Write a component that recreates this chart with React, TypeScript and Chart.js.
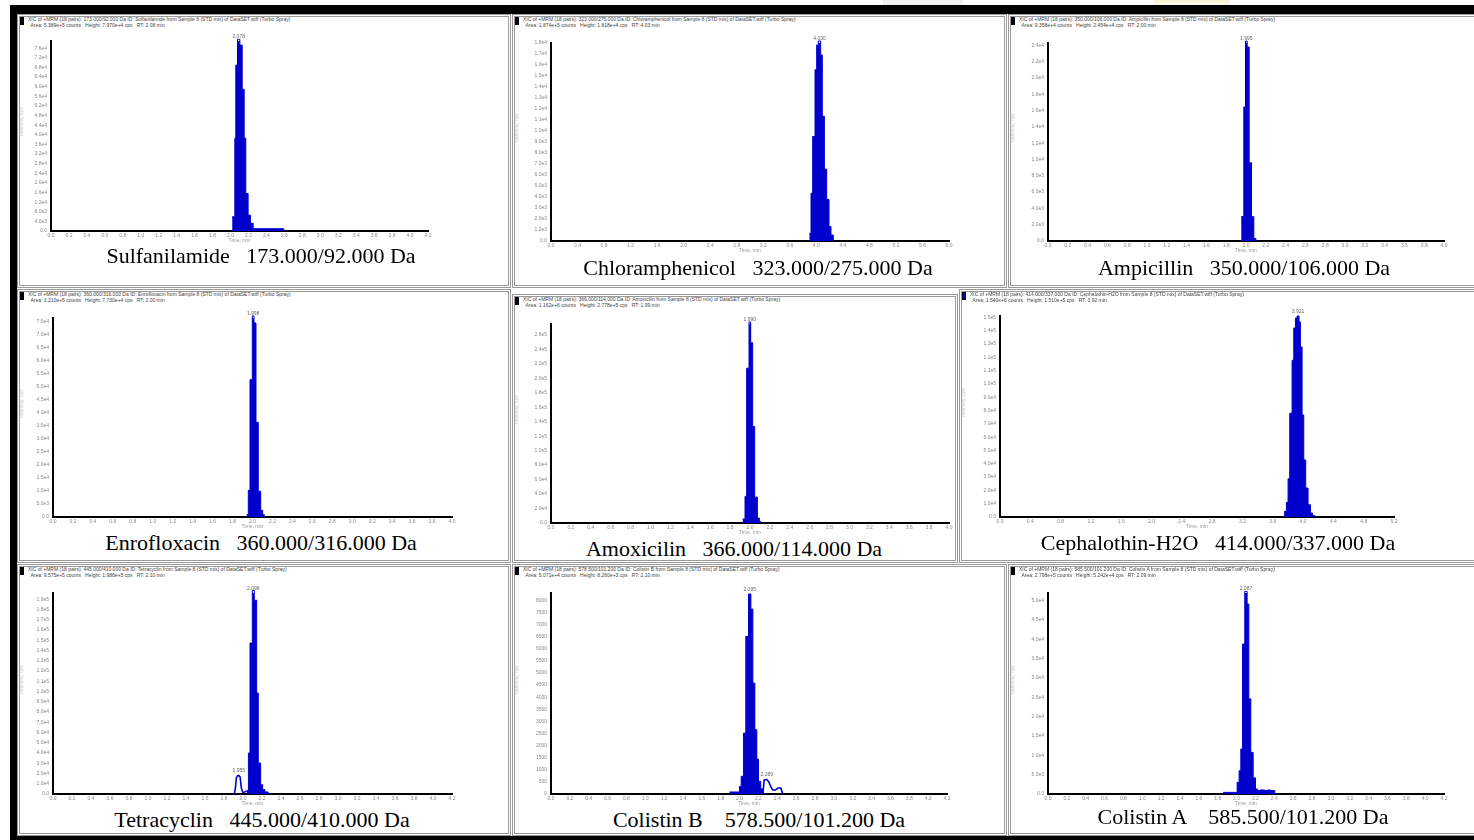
import React, { useEffect, useRef } from "react";
import { Chart, registerables } from "chart.js";

Chart.register(...registerables);

// ---------------- data ----------------
const compoundNames = [
  "Sulfanilamide",
  "Chloramphenicol",
  "Ampicillin",
  "Enrofloxacin",
  "Amoxicilin",
  "Cephalothin-H2O",
  "Tetracyclin",
  "Colistin B",
  "Colistin A",
];
const transitions = [
  "173.000/92.000 Da",
  "323.000/275.000 Da",
  "350.000/106.000 Da",
  "360.000/316.000 Da",
  "366.000/114.000 Da",
  "414.000/337.000 Da",
  "445.000/410.000 Da",
  "578.500/101.200 Da",
  "585.500/101.200 Da",
];
const timeAxisMax = [4.2, 6.0, 4.0, 4.0, 4.0, 5.2, 4.2, 4.2, 4.2];
const timeAxisStep = [0.2, 0.4, 0.2, 0.2, 0.2, 0.4, 0.2, 0.2, 0.2];
const intensityAxisMax = [79000, 18000, 24300, 76500, 275000, 151000, 196000, 8300, 52000];
const intensityAxisStep = [4000, 1000, 2000, 5000, 20000, 10000, 10000, 500, 5000];

const p1Time = [2.018, 2.048, 2.059, 2.078, 2.104, 2.13, 2.152, 2.17, 2.196, 2.222, 2.252, 2.593];
const p1Intensity = [5900, 38600, 69000, 79700, 77300, 58900, 38600, 15600, 6600, 3200, 950, 0];

const p2Time = [3.894, 3.92, 3.945, 3.98, 4.005, 4.03, 4.065, 4.09, 4.121, 4.156, 4.191, 4.221, 4.256];
const p2Intensity = [700, 4340, 9500, 15570, 17820, 18180, 16920, 11340, 6530, 3780, 1310, 540, 0];

const p3Time = [1.951, 1.978, 1.995, 2.012, 2.032, 2.056, 2.079, 2.1];
const p3Intensity = [2990, 16450, 24540, 23810, 9600, 2990, 320, 0];

const p4Time = [1.942, 1.958, 1.975, 1.998, 2.015, 2.035, 2.058, 2.082, 2.102, 2.118];
const p4Intensity = [920, 10250, 52800, 77300, 74600, 36400, 9870, 2600, 920, 0];

const p5Time = [1.926, 1.95, 1.966, 1.99, 2.007, 2.027, 2.047, 2.074, 2.094, 2.107];
const p5Intensity = [5500, 36850, 213950, 277750, 249150, 133400, 35750, 6900, 2200, 0];

const p6Time = [3.749, 3.78, 3.802, 3.824, 3.855, 3.877, 3.899, 3.921, 3.947, 3.965, 3.987, 4.009, 4.035, 4.066, 4.097, 4.123, 4.154];
const p6Intensity = [4230, 11020, 28690, 77920, 117780, 141940, 149500, 151000, 146470, 127750, 76560, 42880, 21740, 9210, 3020, 1060, 0];

const p7Time = [2.039, 2.057, 2.074, 2.098, 2.119, 2.144, 2.161, 2.186, 2.207, 2.231, 2.266];
const p7Intensity = [3530, 39980, 147200, 198550, 188940, 98390, 30180, 9020, 4310, 1960, 0];
const p7MinorTime = [1.909, 1.92, 1.93, 1.941, 1.955, 1.969, 1.983, 1.997, 2.018, 2.039];
const p7MinorIntensity = [0, 5880, 15680, 17640, 18030, 16660, 5880, 1570, 1960, 2940];

const p8Time = [1.893, 1.999, 2.017, 2.042, 2.066, 2.095, 2.12, 2.141, 2.162, 2.183, 2.201, 2.225, 2.254];
const p8Intensity = [83, 315, 730, 2515, 6507, 8260, 7636, 4580, 2656, 1444, 523, 208, 0];
const p8MinorTime = [2.247, 2.261, 2.289, 2.31, 2.332, 2.353, 2.381, 2.409, 2.438, 2.459];
const p8MinorIntensity = [0, 581, 598, 498, 290, 166, 166, 249, 249, 0];

const p9Time = [1.857, 2.006, 2.027, 2.045, 2.063, 2.087, 2.112, 2.13, 2.151, 2.176, 2.201, 2.222, 2.247, 2.3, 2.328, 2.36, 2.406];
const p9Intensity = [420, 3020, 6030, 11650, 38790, 52420, 49140, 24600, 10760, 4160, 1300, 880, 1040, 880, 1040, 880, 0];

const seriesTime = [p1Time, p2Time, p3Time, p4Time, p5Time, p6Time, p7Time, p8Time, p9Time];
const seriesIntensity = [p1Intensity, p2Intensity, p3Intensity, p4Intensity, p5Intensity, p6Intensity, p7Intensity, p8Intensity, p9Intensity];
const minorTime: (number[] | null)[] = [null, null, null, null, null, null, p7MinorTime, p8MinorTime, null];
const minorIntensity: (number[] | null)[] = [null, null, null, null, null, null, p7MinorIntensity, p8MinorIntensity, null];

// ---------------- layout ----------------
const plotRects = [
  [51, 41, 428, 231],
  [551, 43, 949, 241],
  [1048, 43, 1444, 241],
  [53, 318, 452, 517],
  [551, 324, 949, 523],
  [1000, 316, 1394, 517],
  [53, 593, 452, 794],
  [551, 593, 947, 794],
  [1048, 593, 1444, 794],
];
const frameRects = [
  [17, 14, 511, 288],
  [512, 14, 1007, 288],
  [1008, 14, 1480, 288],
  [17, 289, 511, 563],
  [512, 294, 958, 563],
  [959, 289, 1480, 563],
  [17, 564, 511, 836],
  [512, 564, 1007, 836],
  [1008, 564, 1480, 836],
];
const titleCenters = [
  [261, 256],
  [758, 268],
  [1244, 268],
  [261, 543],
  [734, 549],
  [1218, 543],
  [262, 820],
  [759, 820],
  [1243, 817],
];
const nameGaps = ["   ", "   ", "   ", "   ", "   ", "   ", "   ", "    ", "    "];
const blueMarker = [false, false, false, false, false, true, false, false, false];

const BLUE = "#0000CD";
const PAD_L = 40;
const PAD_T = 12;
const PAD_R = 8;
const PAD_B = 13;

function fmtExp(v: number) {
  if (v === 0) return "0.0";
  return v.toExponential(1).replace("+", "");
}

function stepTicks(max: number, step: number) {
  const n = Math.floor(max / step + 1e-6);
  const out: { value: number }[] = [];
  for (let k = 0; k <= n; k++) out.push({ value: Math.round(k * step * 1000) / 1000 });
  return out;
}

const peakLabelPlugin = {
  id: "peakLabels",
  afterDatasetsDraw(chart: any) {
    const ctx = chart.ctx;
    chart.data.datasets.forEach((ds: any) => {
      if (!ds.peakLabel) return;
      const d = ds.data as { x: number; y: number }[];
      let best = 0;
      d.forEach((p, j) => {
        if (p.y > d[best].y) best = j;
      });
      const p = d[best];
      const nx = ds.stepped && d[best + 1] ? (p.x + d[best + 1].x) / 2 : p.x;
      const x = chart.scales.x.getPixelForValue(nx);
      const y = chart.scales.y.getPixelForValue(p.y);
      ctx.save();
      ctx.font = "5px 'Liberation Sans'";
      ctx.fillStyle = "#666";
      ctx.textAlign = "center";
      ctx.textBaseline = "bottom";
      ctx.fillText(p.x.toFixed(3), x, Math.max(y, chart.chartArea.top) - 2);
      ctx.restore();
    });
  },
};

function PanelChart({ i }: { i: number }) {
  const ref = useRef<HTMLCanvasElement>(null);
  const [L, T, R, B] = plotRects[i];
  const W = R - L + PAD_L + PAD_R;
  const H = B - T + PAD_T + PAD_B;
  useEffect(() => {
    const datasets: any[] = [
      {
        data: seriesTime[i].map((t, k) => ({ x: t, y: seriesIntensity[i][k] })),
        stepped: true,
        fill: "origin",
        borderColor: BLUE,
        backgroundColor: BLUE,
        borderWidth: 1,
        pointRadius: 0,
        clip: false,
        peakLabel: true,
      },
    ];
    const mt = minorTime[i];
    const mi = minorIntensity[i];
    if (mt && mi) {
      datasets.push({
        data: mt.map((t, k) => ({ x: t, y: mi[k] })),
        fill: false,
        borderColor: BLUE,
        borderWidth: 1.6,
        pointRadius: 0,
        tension: 0,
        peakLabel: true,
      });
    }
    const useExp = intensityAxisMax[i] >= 10000;
    const chart = new Chart(ref.current as HTMLCanvasElement, {
      type: "line",
      data: { datasets },
      options: {
        animation: false,
        responsive: false,
        events: [],
        layout: { padding: { left: 0, top: PAD_T, right: PAD_R, bottom: 0 } },
        plugins: { legend: { display: false }, tooltip: { enabled: false } },
        scales: {
          x: {
            type: "linear",
            min: 0,
            max: timeAxisMax[i],
            afterBuildTicks: (s: any) => {
              s.ticks = stepTicks(timeAxisMax[i], timeAxisStep[i]);
            },
            afterFit: (s: any) => {
              s.height = PAD_B;
            },
            grid: { display: false, drawTicks: false },
            border: { display: true, color: "#000", width: 2 },
            ticks: {
              autoSkip: false,
              maxRotation: 0,
              padding: 2,
              color: "#888",
              font: { size: 5, family: "'Liberation Sans'" },
              callback: (v: any) => Number(v).toFixed(1),
            },
            title: {
              display: true,
              text: "Time, min",
              color: "#999",
              font: { size: 5, family: "'Liberation Sans'" },
              padding: { top: 0, bottom: 0 },
            },
          },
          y: {
            type: "linear",
            min: 0,
            max: intensityAxisMax[i],
            afterBuildTicks: (s: any) => {
              s.ticks = stepTicks(intensityAxisMax[i], intensityAxisStep[i]);
            },
            afterFit: (s: any) => {
              s.width = PAD_L;
            },
            grid: { display: false, drawTicks: false },
            border: { display: true, color: "#000", width: 2 },
            ticks: {
              autoSkip: false,
              padding: 4,
              color: "#888",
              font: { size: 5, family: "'Liberation Sans'" },
              callback: (v: any) => (useExp ? fmtExp(Number(v)) : String(Math.round(Number(v)))),
            },
          },
        },
      } as any,
      plugins: [peakLabelPlugin],
    });
    return () => chart.destroy();
  }, [i]);
  return (
    <canvas
      ref={ref}
      width={W}
      height={H}
      style={{ position: "absolute", left: L - PAD_L, top: T - PAD_T, width: W, height: H }}
    />
  );
}

function headerLines(i: number) {
  const t = seriesTime[i];
  const v = seriesIntensity[i];
  let best = 0;
  v.forEach((y, k) => {
    if (y > v[best]) best = k;
  });
  let area = 0;
  for (let k = 0; k < t.length - 1; k++) area += (t[k + 1] - t[k]) * v[k] * 60;
  const l1 = `XIC of +MRM (18 pairs): ${transitions[i]} ID: ${compoundNames[i]} from Sample 8 (STD mix) of DataSET.wiff (Turbo Spray)`;
  const l2 = `Area: ${area.toExponential(3)} counts   Height: ${v[best].toExponential(3)} cps   RT: ${t[best].toFixed(2)} min`;
  return [l1, l2];
}

function Panel({ i }: { i: number }) {
  const [fl, ft, fr, fb] = frameRects[i];
  const [cx, cy] = titleCenters[i];
  const [l1, l2] = headerLines(i);
  const [, T, , B] = plotRects[i];
  return (
    <>
      <div
        style={{
          position: "absolute",
          left: fl,
          top: ft,
          width: fr - fl,
          height: fb - ft,
          boxSizing: "border-box",
          border: "3px double #9a9a9a",
          background: "#fff",
        }}
      />
      <div
        style={{
          position: "absolute",
          left: fl + 3,
          top: ft + 3,
          width: 4,
          height: 8,
          boxSizing: "border-box",
          background: blueMarker[i] ? BLUE : "#000",
          border: "1px solid #000",
        }}
      />
      <div
        style={{
          position: "absolute",
          left: fl + 11,
          top: ft + 2,
          font: "5px 'Liberation Sans'",
          lineHeight: "6px",
          color: "#444",
          whiteSpace: "pre",
        }}
      >
        {l1}
        {"\n"}
        {"  " + l2}
      </div>
      <div
        style={{
          position: "absolute",
          left: fl + 4,
          top: (T + B) / 2 - 3,
          font: "5px 'Liberation Sans'",
          color: "#c8c8c8",
          whiteSpace: "pre",
          transform: "rotate(-90deg)",
          transformOrigin: "0 50%",
        }}
      >
        Intensity, cps
      </div>
      <PanelChart i={i} />
      <div
        style={{
          position: "absolute",
          left: cx - 300,
          top: cy - 13,
          width: 600,
          textAlign: "center",
          font: "22px 'Liberation Serif'",
          lineHeight: "26px",
          color: "#000",
          whiteSpace: "pre",
        }}
      >
        {compoundNames[i] + nameGaps[i] + transitions[i]}
      </div>
    </>
  );
}

export default function App() {
  return (
    <div
      style={{
        position: "absolute",
        left: 0,
        top: 0,
        width: 1474,
        height: 840,
        overflow: "hidden",
        background: "#fff",
      }}
    >
      <div style={{ position: "absolute", left: 1154, top: 0, width: 76, height: 5, background: "linear-gradient(#f3f3cf, #fbfbee)" }} />
      <div style={{ position: "absolute", left: 883, top: 0, width: 80, height: 5, background: "#f0f0f0" }} />
      <div style={{ position: "absolute", left: 10, top: 5, width: 1464, height: 9, background: "#000" }} />
      <div style={{ position: "absolute", left: 10, top: 5, width: 7, height: 835, background: "#000" }} />
      <div style={{ position: "absolute", left: 10, top: 836, width: 1464, height: 4, background: "#000" }} />
      {compoundNames.map((_, i) => (
        <Panel key={i} i={i} />
      ))}
    </div>
  );
}
